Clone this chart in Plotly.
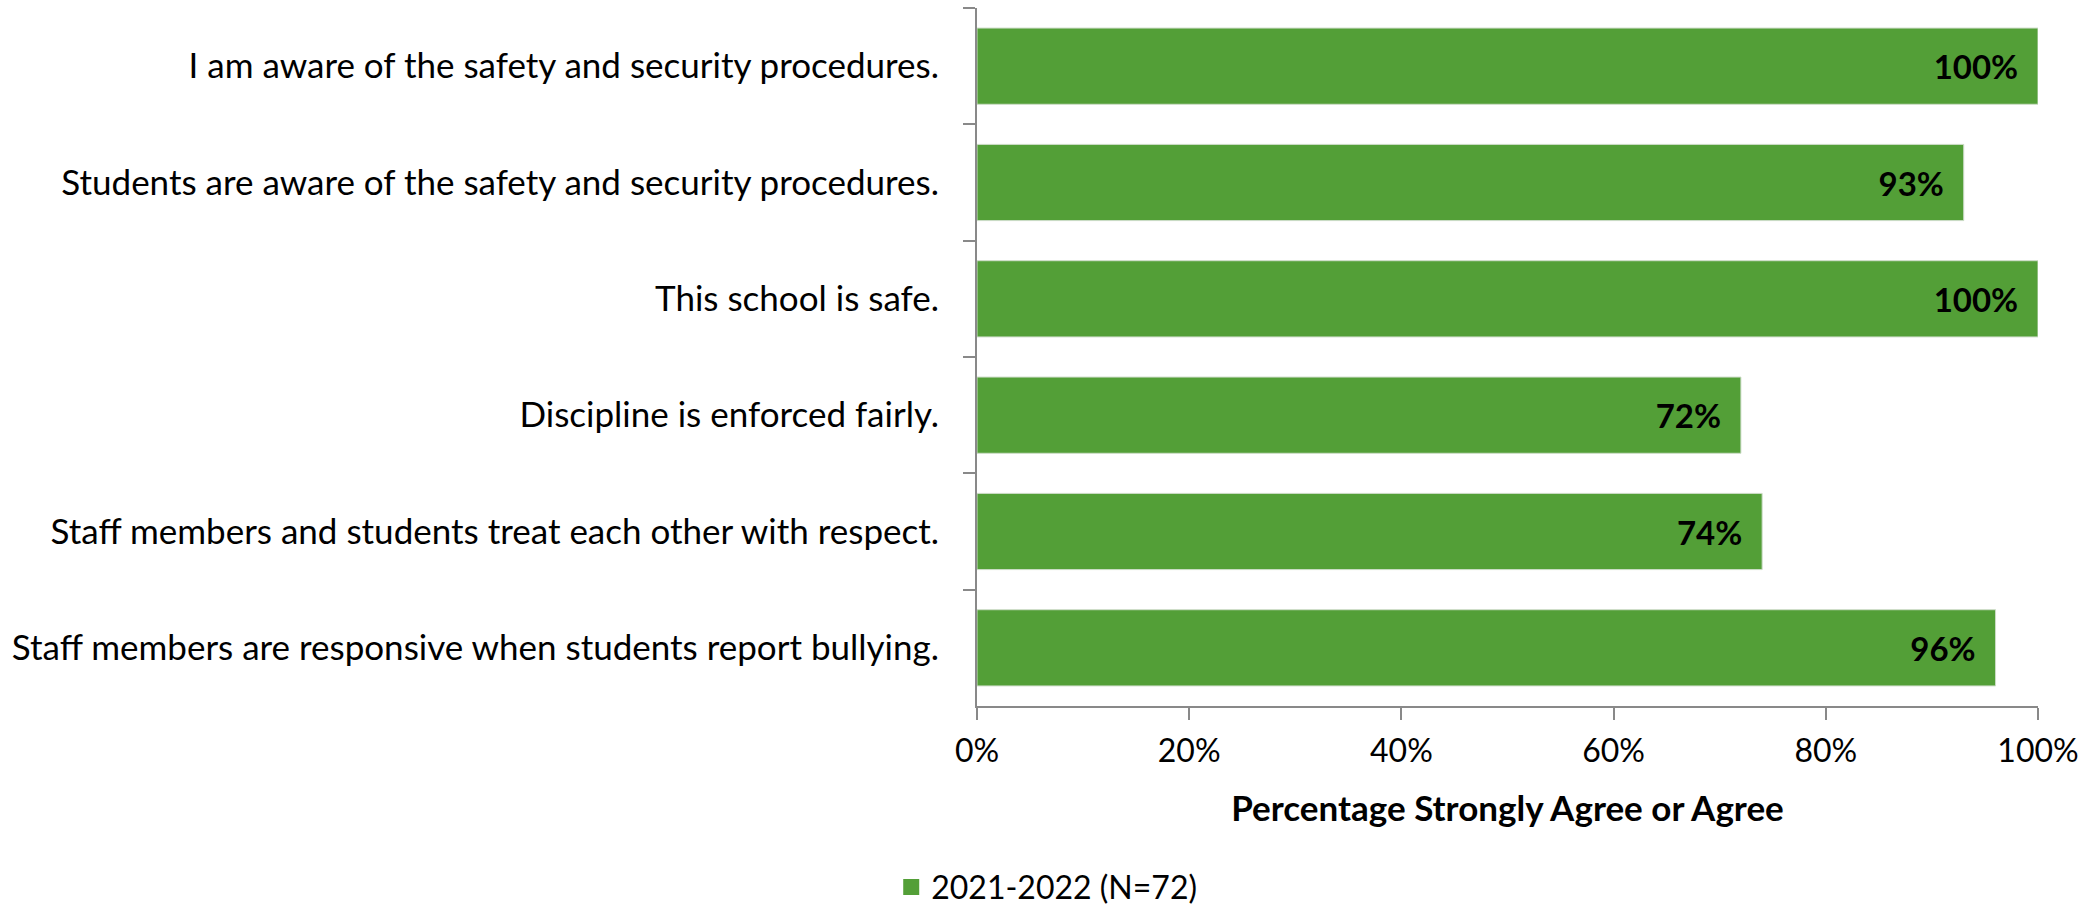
import plotly.graph_objects as go

# survey items, top to bottom as in the chart
statements = [
    'I am aware of the safety and security procedures.',
    'Students are aware of the safety and security procedures.',
    'This school is safe.',
    'Discipline is enforced fairly.',
    'Staff members and students treat each other with respect.',
    'Staff members are responsive when students report bullying.',
]
pct_agree = [100, 93, 100, 72, 74, 96]
series_name = '2021-2022 (N=72)'
x_ticks = [0, 20, 40, 60, 80, 100]
x_tick_labels = ['0%', '20%', '40%', '60%', '80%', '100%']

FONT = 'Lato'
AXIS_GREY = 'rgb(137, 137, 137)'
BAR_GREEN = 'rgb(83, 159, 55)'

fig = go.Figure()

fig.add_bar(
    y=statements,
    x=pct_agree,
    orientation='h',
    name=series_name,
    showlegend=False,
    marker=dict(color=BAR_GREEN, line=dict(color='rgb(205, 220, 200)', width=1)),
    text=[f'{v}%' for v in pct_agree],
    texttemplate='<b>%{text}</b>\u00a0\u00a0',
    textposition='inside',
    insidetextanchor='end',
    textfont=dict(family=FONT, size=33, color='black'),
    cliponaxis=False,
)

# legend entry with a bigger square swatch than the bar legend gives
fig.add_scatter(
    x=[None], y=[None],
    mode='markers',
    name=series_name,
    marker=dict(symbol='square', size=16, color=BAR_GREEN),
    showlegend=True,
)

fig.update_layout(
    width=2097,
    height=909,
    margin=dict(l=977, r=59, t=8, b=203),
    paper_bgcolor='white',
    plot_bgcolor='white',
    font=dict(family=FONT, size=33, color='black'),
    bargap=0.345,
    showlegend=True,
    legend=dict(
        orientation='h',
        xref='container', yref='container',
        x=0.425, y=0.024,
        xanchor='left', yanchor='middle',
        font=dict(family=FONT, size=32, color='black'),
        itemwidth=30,
    ),
)

fig.update_xaxes(
    range=[0, 100],
    tickvals=x_ticks,
    ticktext=x_tick_labels,
    tickfont=dict(family=FONT, size=32, color='black'),
    showgrid=False,
    zeroline=False,
    showline=True,
    linecolor=AXIS_GREY,
    linewidth=2,
    ticks='outside',
    ticklen=12,
    tickwidth=2,
    tickcolor=AXIS_GREY,
    ticklabelstandoff=4,
    title=dict(
        text='<b>Percentage Strongly Agree or Agree</b>',
        font=dict(family=FONT, size=35, color='black'),
        standoff=28,
    ),
)

fig.update_yaxes(
    autorange='reversed',
    showgrid=False,
    showline=True,
    linecolor=AXIS_GREY,
    linewidth=2,
    ticks='outside',
    tickson='boundaries',
    ticklen=12,
    tickwidth=2,
    tickcolor=AXIS_GREY,
    tickfont=dict(family=FONT, size=35, color='black'),
    ticklabelstandoff=29,
)

fig.write_html(
    'out.html',
    config={'displayModeBar': False},
    post_script="document.body.style.margin = '0px'; window.dispatchEvent(new Event('resize'));",
)
